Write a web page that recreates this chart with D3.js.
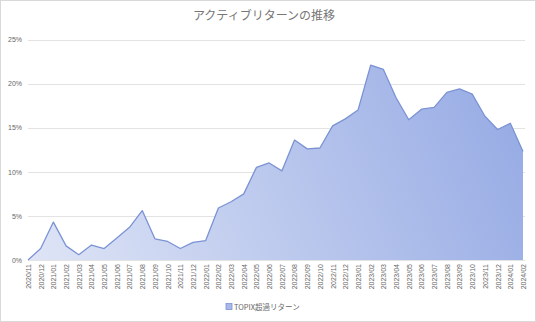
<!DOCTYPE html>
<html>
<head>
<meta charset="utf-8">
<script src="https://cdn.jsdelivr.net/npm/d3@7"></script>
<style>
    body { margin: 0; background: #fff; }
    svg { display: block; font-family: "Noto Sans CJK JP", "Noto Sans", sans-serif; }
</style>
</head>
<body>
<svg id="chart" width="536" height="322"></svg>
<script>
// Months on the x axis
const months = [
    '2020/11', '2020/12', '2021/01', '2021/02', '2021/03', '2021/04', '2021/05', '2021/06',
    '2021/07', '2021/08', '2021/09', '2021/10', '2021/11', '2021/12', '2022/01', '2022/02',
    '2022/03', '2022/04', '2022/05', '2022/06', '2022/07', '2022/08', '2022/09', '2022/10',
    '2022/11', '2022/12', '2023/01', '2023/02', '2023/03', '2023/04', '2023/05', '2023/06',
    '2023/07', '2023/08', '2023/09', '2023/10', '2023/11', '2023/12', '2024/01', '2024/02'
];

// TOPIX excess return (%)
const excessReturn = [
    0.0, 1.3, 4.3, 1.6, 0.6, 1.7, 1.3, 2.5,
    3.7, 5.6, 2.4, 2.1, 1.3, 2.0, 2.2, 5.9,
    6.6, 7.5, 10.5, 11.0, 10.1, 13.6, 12.6, 12.7,
    15.2, 16.0, 17.0, 22.1, 21.6, 18.4, 15.9, 17.1,
    17.3, 19.0, 19.4, 18.8, 16.3, 14.8, 15.5, 12.3
];

const yTicks = [0, 5, 10, 15, 20, 25];

const title = 'アクティブリターンの推移';
const seriesName = 'TOPIX超過リターン';

const svg = d3.select('#chart');
const W = 536, H = 322;

// Outer chart border
svg.append('rect')
    .attr('x', 0.5).attr('y', 0.5)
    .attr('width', W - 1).attr('height', H - 1)
    .attr('fill', '#fff')
    .attr('stroke', '#d9d9d9');

const x = d3.scalePoint()
    .domain(months)
    .range([28, 523]);

const y = d3.scaleLinear()
    .domain([0, 25])
    .range([260, 39.5]);

// Gradient for the area fill
const defs = svg.append('defs');
const grad = defs.append('linearGradient')
    .attr('id', 'areaFill')
    .attr('gradientUnits', 'userSpaceOnUse')
    .attr('x1', 28).attr('y1', 260)
    .attr('x2', 523).attr('y2', 60);
grad.append('stop').attr('offset', '0%').attr('stop-color', '#dfe5f6');
grad.append('stop').attr('offset', '100%').attr('stop-color', '#94a9e4');

// Gridlines
svg.append('g')
    .selectAll('line')
    .data(yTicks)
    .enter().append('line')
    .attr('x1', 28).attr('x2', 525)
    .attr('y1', d => Math.round(y(d)) + 0.5)
    .attr('y2', d => Math.round(y(d)) + 0.5)
    .attr('stroke', '#e3e3e3')
    .attr('stroke-width', 1);

// Area + line
const area = d3.area()
    .x((d, i) => x(months[i]))
    .y0(y(0))
    .y1(d => y(d));

const line = d3.line()
    .x((d, i) => x(months[i]))
    .y(d => y(d));

svg.append('path')
    .datum(excessReturn)
    .attr('d', area)
    .attr('fill', 'url(#areaFill)');

svg.append('path')
    .datum(excessReturn)
    .attr('d', line)
    .attr('fill', 'none')
    .attr('stroke', '#7b93d4')
    .attr('stroke-width', 1.3)
    .attr('stroke-linejoin', 'round');

// Y axis
const yAxis = svg.append('g')
    .attr('transform', 'translate(22,0)')
    .call(d3.axisLeft(y).tickValues(yTicks).tickSize(0).tickPadding(0).tickFormat(d => d + '%'));
yAxis.select('.domain').remove();
yAxis.selectAll('text')
    .attr('fill', '#666')
    .attr('font-size', 7);

// X axis
const xAxis = svg.append('g')
    .attr('transform', 'translate(0,262)')
    .call(d3.axisBottom(x).tickSize(0).tickPadding(0));
xAxis.select('.domain').remove();
xAxis.selectAll('text')
    .attr('fill', '#666')
    .attr('font-size', 7)
    .attr('text-anchor', 'end')
    .attr('dy', '0.35em')
    .attr('transform', 'rotate(-90) translate(-2,0)')
    .attr('x', 0).attr('y', 0);

// Title
svg.append('text')
    .attr('x', W / 2 - 4)
    .attr('y', 20)
    .attr('text-anchor', 'middle')
    .attr('fill', '#777')
    .attr('font-size', 12)
    .text(title);

// Legend
const legend = svg.append('g').attr('transform', 'translate(226,307)');
legend.append('rect')
    .attr('x', 0).attr('y', -3.5)
    .attr('width', 6).attr('height', 6)
    .attr('fill', '#a9b8e8')
    .attr('stroke', '#7b93d4')
    .attr('stroke-width', 0.8);
legend.append('text')
    .attr('x', 8).attr('y', 0)
    .attr('dy', '0.35em')
    .attr('fill', '#666')
    .attr('font-size', 7.5)
    .text(seriesName);
</script>
</body>
</html>
